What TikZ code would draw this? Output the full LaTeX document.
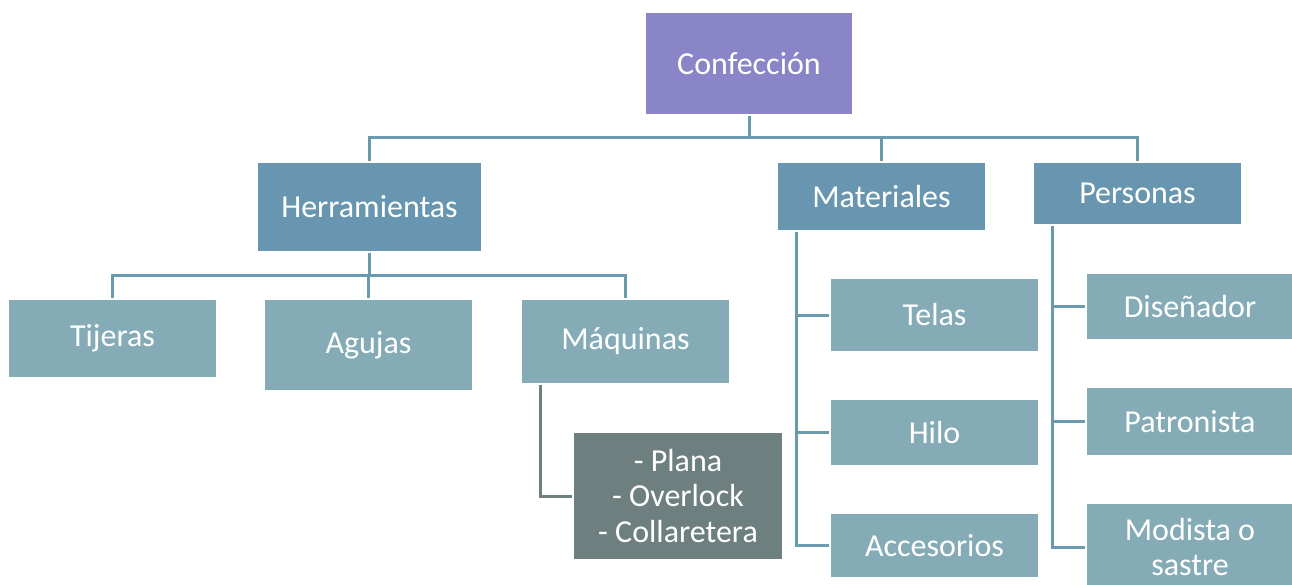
\documentclass[tikz,border=0pt]{standalone}
\usepackage{fontspec}
\setmainfont{Carlito}
\usepackage{tikz}

\definecolor{topfill}{HTML}{8985C6}
\definecolor{midfill}{HTML}{6896B0}
\definecolor{leaffill}{HTML}{85ACB6}
\definecolor{greyfill}{HTML}{6E7F80}
\definecolor{linkcol}{HTML}{6A9AAE}

\begin{document}
\begin{tikzpicture}[x=1pt, y=-1pt,
		box/.style={draw=white, line width=1.2pt, text=white, inner sep=0pt,
			font=\fontsize{32}{35.5}\selectfont, align=center},
		link/.style={draw=linkcol, line width=3pt},
		greylink/.style={draw=greyfill, line width=3pt}]
		\useasboundingbox (0, 0) rectangle (1292, 585);

		\node[box, fill=topfill, minimum width=208, minimum height=103] (Confeccion)   at (749, 63.5)    {Confección};
		\node[box, fill=midfill, minimum width=225, minimum height=90]  (Herramientas) at (369.5, 207)   {Herramientas};
		\node[box, fill=midfill, minimum width=209, minimum height=69]  (Materiales)   at (881.5, 196.5) {Materiales};
		\node[box, fill=midfill, minimum width=209, minimum height=63]  (Personas)     at (1137.5, 193.5) {Personas};

		\node[box, fill=leaffill, minimum width=209, minimum height=79]  (Tijeras)  at (112.5, 338.5) {Tijeras};
		\node[box, fill=leaffill, minimum width=209, minimum height=92]  (Agujas)   at (368.5, 345)   {Agujas};
		\node[box, fill=leaffill, minimum width=209, minimum height=85]  (Maquinas) at (625.5, 341.5) {Máquinas};
		\node[box, fill=greyfill, minimum width=210, minimum height=128] (Plana)    at (678, 496)     {- Plana\\- Overlock\\- Collaretera};

		\node[box, fill=leaffill, minimum width=209, minimum height=74] (Telas)      at (934.5, 315)   {Telas};
		\node[box, fill=leaffill, minimum width=209, minimum height=67] (Hilo)       at (934.5, 432.5) {Hilo};
		\node[box, fill=leaffill, minimum width=209, minimum height=65] (Accesorios) at (934.5, 545.5) {Accesorios};

		\node[box, fill=leaffill, minimum width=208, minimum height=67] (Disenador)  at (1190, 306.5) {Diseñador};
		\node[box, fill=leaffill, minimum width=208, minimum height=69] (Patronista) at (1190, 421.5) {Patronista};
		\node[box, fill=leaffill, minimum width=208, minimum height=88] (Modista)    at (1190, 547)   {Modista o\\sastre};

		\coordinate (TopBus)  at (749, 138);
		\coordinate (HerrBus) at (369.5, 275);
		\coordinate[xshift=20pt] (MaqSpine) at (Maquinas.south west);
		\coordinate[xshift=20pt] (MatSpine) at (Materiales.south west);
		\coordinate[xshift=20pt] (PerSpine) at (Personas.south west);

		% first level
		\draw[link] (Confeccion) -- (TopBus);
		\draw[link] (Herramientas) |- (TopBus) -| (Personas);
		\draw[link] (Materiales) -- (Materiales |- TopBus);

		% herramientas
		\draw[link] (Herramientas) -- (HerrBus);
		\draw[link] (Tijeras) |- (HerrBus) -| (Maquinas);
		\draw[link] (Agujas) -- (Agujas |- HerrBus);
		\draw[greylink] (MaqSpine) |- (Plana);

		% materiales
		\draw[link] (MatSpine) |- (Accesorios);
		\draw[link] (Telas) -- (Telas -| MatSpine);
		\draw[link] (Hilo)  -- (Hilo -| MatSpine);

		% personas
		\draw[link] (PerSpine) |- (Modista);
		\draw[link] (Disenador)  -- (Disenador -| PerSpine);
		\draw[link] (Patronista) -- (Patronista -| PerSpine);
	\end{tikzpicture}
\end{document}
